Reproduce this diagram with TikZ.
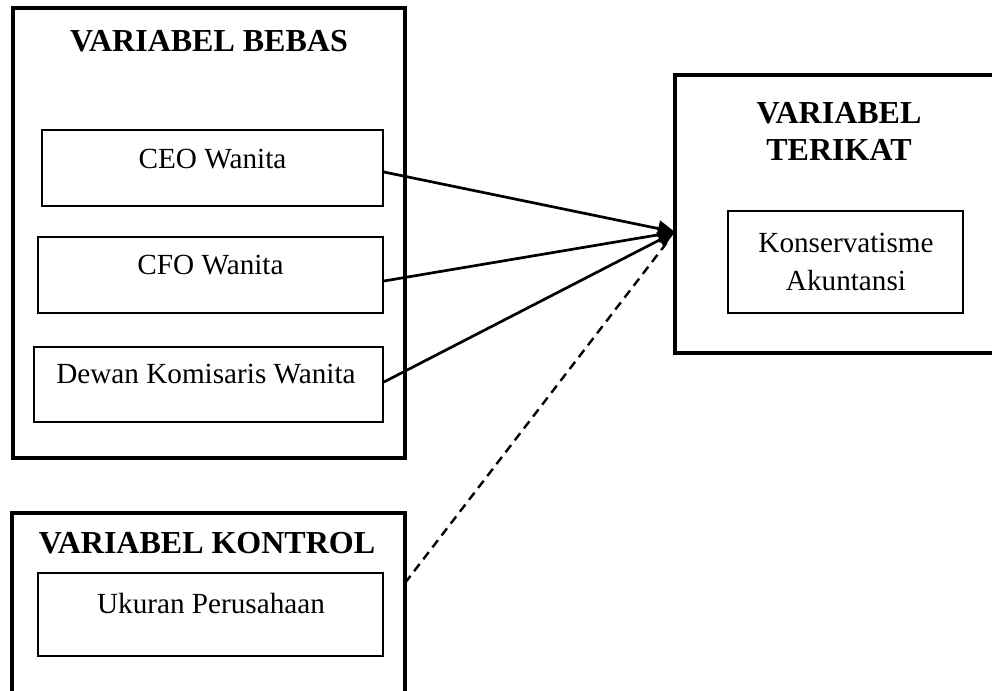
\documentclass[tikz,border=0pt]{standalone}
\usepackage{fontspec}
\setmainfont{Liberation Serif}
\usetikzlibrary{arrows.meta,calc}
\tikzset{
  outerbox/.style={draw, line width=3.6pt, rectangle, inner sep=0pt},
  innerbox/.style={draw, line width=1.8pt, rectangle, inner sep=0pt},
  title/.style={font=\fontsize{32}{37}\selectfont\bfseries, anchor=base, inner sep=0pt, align=center},
  label/.style={font=\fontsize{29.2}{38}\selectfont, anchor=base, inner sep=0pt, align=center},
  conn/.style={line width=2.7pt, -{Triangle[length=17pt,width=16pt]}},
  dconn/.style={line width=2.4pt, dash pattern=on 9pt off 6pt},
}
\begin{document}
\begin{tikzpicture}[x=1pt,y=-1pt]
\useasboundingbox (0,0) rectangle (992,690);
% outer boxes
\node[outerbox, minimum width=392pt, minimum height=450pt] (bebas) at (209,233) {};
\node[outerbox, minimum width=330pt, minimum height=278pt] (terikat) at (840,214) {};
\node[outerbox, minimum width=393pt, minimum height=220pt] (kontrol) at (208.5,623) {};
% titles
\node[title] (tbebas) at (209,52) {VARIABEL BEBAS};
\node[title] (tterikat1) at (839,123) {VARIABEL};
\node[title] (tterikat2) at (839,160) {TERIKAT};
\node[title] (tkontrol) at (207,553) {VARIABEL KONTROL};
% inner boxes
\node[innerbox, minimum width=341pt, minimum height=76pt] (ceo) at (212.5,168) {};
\node[innerbox, minimum width=345pt, minimum height=76pt] (cfo) at (210.5,275) {};
\node[innerbox, minimum width=349pt, minimum height=75pt] (dewan) at (208.5,384.5) {};
\node[innerbox, minimum width=235pt, minimum height=102pt] (kons) at (845.5,262) {};
\node[innerbox, minimum width=345pt, minimum height=83pt] (ukuran) at (210.5,614.5) {};
% labels
\node[label] (lceo) at (212.5,168) {CEO Wanita};
\node[label] (lcfo) at (210.5,274) {CFO Wanita};
\node[label] (ldewan) at (206,383) {Dewan Komisaris Wanita};
\node[label] (lkons1) at (846,252) {Konservatisme};
\node[label] (lkons2) at (846,290) {Akuntansi};
\node[label] (lukuran) at (211,613) {Ukuran Perusahaan};
% connectors
\coordinate (tip) at (675,232);
\coordinate (dstart) at (405,583);
\draw[conn] ($(ceo.east)+(0,4)$) -- (tip);
\draw[conn] ($(cfo.east)+(0,6)$) -- (tip);
\draw[conn] ($(dewan.east)+(0,-2.5)$) -- (tip);
\draw[dconn] (dstart) -- ($(dstart)!0.97!(tip)$);
\end{tikzpicture}
\end{document}
